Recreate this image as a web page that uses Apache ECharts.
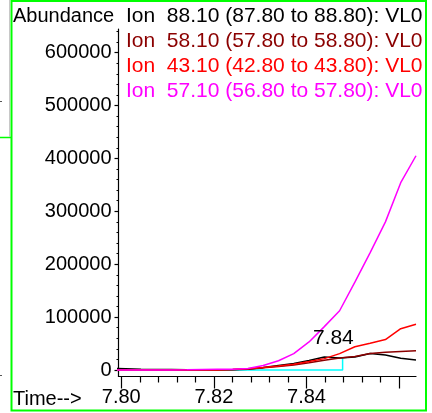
<!DOCTYPE html>
<html>
<head>
<meta charset="utf-8">
<script src="https://cdn.jsdelivr.net/npm/echarts@6/dist/echarts.min.js"></script>
<style>
  html, body { margin: 0; padding: 0; background: #fff; }
  #chart { width: 432px; height: 413px; }
</style>
</head>
<body>
<div id="chart"></div>
<script>
// Extracted ion chromatograms, retention time in minutes vs. abundance
const scanTimes = [7.79765, 7.80095, 7.80425, 7.80755, 7.81085, 7.81415, 7.81745,
                   7.82075, 7.82405, 7.82735, 7.83065, 7.83395, 7.83725, 7.84055,
                   7.84385, 7.84715, 7.85045, 7.85375, 7.85705, 7.86035, 7.86365];

const ion88 = [3000, 2500, 1500, 1000, 800, 600, 500, 500, 300, 1500, 4500, 8500,
               12500, 18000, 24500, 22500, 24500, 31000, 28500, 22000, 19000];
const ion58 = [300, 300, 300, 200, 200, 200, 300, 500, 800, 2000, 4000, 6500,
               9500, 13500, 18500, 22500, 25500, 31000, 33500, 35000, 36500];
const ion43 = [0, 0, 0, 0, 0, 0, 0, 200, 1000, 2500, 4500, 7500,
               11000, 16000, 21500, 31000, 44000, 50500, 57500, 78000, 86500];
const ion57 = [0, 0, 0, 0, 0, 300, 800, 1200, 1500, 3000, 8500, 17500,
               31000, 53000, 82000, 112000, 166000, 222000, 280000, 354000, 405000];

const ionNames = [
  'Ion  88.10 (87.80 to 88.80): VL0',
  'Ion  58.10 (57.80 to 58.80): VL0',
  'Ion  43.10 (42.80 to 43.80): VL0',
  'Ion  57.10 (56.80 to 57.80): VL0'
];
const ionColors = ['#000000', '#8b0000', '#ff0000', '#ff00ff'];
const ionValues = [ion88, ion58, ion43, ion57];

// Integration baseline and end marker for the labelled peak
const baseTimes = [7.7994, 7.8478, 7.8478];
const baseValues = [0, 0, 22000];
const peakLabel = '7.84';
const peakLabelAt = [7.8458, 60000];

// Axis ticks and labels
const timeLabels = [7.80, 7.82, 7.84];
const timeMajorTicks = [7.80, 7.82, 7.84, 7.86];
const timeMinorTicks = [7.804, 7.808, 7.812, 7.816, 7.824, 7.828, 7.832, 7.836,
                        7.844, 7.848, 7.852, 7.856];
const abundanceTicks = [0, 100000, 200000, 300000, 400000, 500000, 600000];
const abundanceMinorStep = 20000;

const FONT = '"Liberation Sans", Arial, Helvetica, sans-serif';
const X_MIN = 7.7994, X_MAX = 7.86365;
const Y_MIN = -12300, Y_MAX = 644600;

const abundanceMinorTicks = [];
for (let v = abundanceMinorStep; v < Y_MAX; v += abundanceMinorStep) {
  if (v % 100000 !== 0) abundanceMinorTicks.push(v);
}

const pairs = (xs, ys) => xs.map((x, i) => [x, ys[i]]);

const chart = echarts.init(document.getElementById('chart'), null, { renderer: 'canvas' });

const series = [
  {
    type: 'line',
    name: 'baseline',
    data: pairs(baseTimes, baseValues),
    showSymbol: false,
    symbol: 'none',
    lineStyle: { color: '#00ffff', width: 1.5 },
    z: 1,
    silent: true
  }
];
ionValues.forEach((vals, i) => {
  series.push({
    type: 'line',
    name: ionNames[i],
    data: pairs(scanTimes, vals),
    showSymbol: false,
    symbol: 'none',
    color: ionColors[i],
    lineStyle: { color: ionColors[i], width: 1.5 },
    z: 2 + i
  });
});
series.push({
  type: 'scatter',
  name: 'peak',
  data: [peakLabelAt],
  symbolSize: 0,
  itemStyle: { color: '#000', opacity: 0 },
  label: {
    show: true,
    position: 'inside',
    formatter: peakLabel,
    color: '#000',
    textBorderWidth: 0,
    textBorderColor: 'transparent',
    opacity: 1,
    fontSize: 21,
    fontFamily: FONT
  },
  z: 10,
  silent: true
});

chart.setOption({
  animation: false,
  backgroundColor: '#ffffff',
  grid: { left: 118.5, right: 16, top: 29, bottom: 36.5, containLabel: false },
  legend: {
    orient: 'vertical',
    left: 121,
    top: 6,
    padding: 0,
    itemGap: 4,
    itemWidth: 0,
    itemHeight: 14,
    icon: 'none',
    selectedMode: false,
    textStyle: { fontSize: 21, fontFamily: FONT },
    data: ionNames.map((n, i) => ({ name: n, icon: 'none', textStyle: { color: ionColors[i] } }))
  },
  xAxis: [
    {
      type: 'value',
      min: X_MIN,
      max: X_MAX,
      position: 'bottom',
      splitLine: { show: false },
      axisLine: { show: true, onZero: false, lineStyle: { color: '#000', width: 1.2 } },
      axisTick: { show: true, customValues: timeMajorTicks, length: 12, lineStyle: { color: '#000', width: 1.2 } },
      axisLabel: {
        customValues: timeLabels,
        formatter: v => v.toFixed(2),
        margin: 11,
        color: '#000',
        fontSize: 20,
        fontFamily: FONT
      }
    },
    {
      type: 'value',
      min: X_MIN,
      max: X_MAX,
      position: 'bottom',
      splitLine: { show: false },
      axisLine: { show: false, onZero: false },
      axisTick: { show: true, customValues: timeMinorTicks, length: 6, lineStyle: { color: '#000', width: 1.2 } },
      axisLabel: { show: false }
    }
  ],
  yAxis: [
    {
      type: 'value',
      min: Y_MIN,
      max: Y_MAX,
      position: 'left',
      splitLine: { show: false },
      axisLine: { show: true, onZero: false, lineStyle: { color: '#000', width: 1.2 } },
      axisTick: { show: true, customValues: abundanceTicks, length: 4, lineStyle: { color: '#000', width: 1.2 } },
      axisLabel: {
        customValues: abundanceTicks,
        formatter: v => String(Math.round(v)),
        margin: 7,
        color: '#000',
        fontSize: 20,
        fontFamily: FONT
      }
    },
    {
      type: 'value',
      min: Y_MIN,
      max: Y_MAX,
      position: 'left',
      splitLine: { show: false },
      axisLine: { show: false, onZero: false },
      axisTick: { show: true, customValues: abundanceMinorTicks, length: 2, lineStyle: { color: '#000', width: 1 } },
      axisLabel: { show: false }
    }
  ],
  graphic: [
    {
      type: 'rect',
      shape: { x: 11.5, y: 1, width: 414.5, height: 409.5 },
      style: { fill: 'none', stroke: '#00ff00', lineWidth: 2 },
      silent: true
    },
    {
      type: 'line',
      shape: { x1: 0, y1: 137.5, x2: 11, y2: 137.5 },
      style: { stroke: '#00ff00', lineWidth: 1.5 },
      silent: true
    },
    {
      type: 'line',
      shape: { x1: 9.5, y1: 0, x2: 9.5, y2: 137 },
      style: { stroke: '#c8c8c8', lineWidth: 1 },
      silent: true
    },
    {
      type: 'line',
      shape: { x1: 0, y1: 101.5, x2: 2, y2: 101.5 },
      style: { stroke: '#555', lineWidth: 1 },
      silent: true
    },
    {
      type: 'line',
      shape: { x1: 0, y1: 375.5, x2: 2, y2: 375.5 },
      style: { stroke: '#555', lineWidth: 1 },
      silent: true
    },
    {
      type: 'text',
      left: 13,
      top: 6,
      style: { text: 'Abundance', fill: '#000', fontSize: 20, fontFamily: FONT },
      silent: true
    },
    {
      type: 'text',
      left: 13,
      top: 389,
      style: { text: 'Time-->', fill: '#000', fontSize: 20, fontFamily: FONT },
      silent: true
    }
  ],
  series: series
});
</script>
</body>
</html>
